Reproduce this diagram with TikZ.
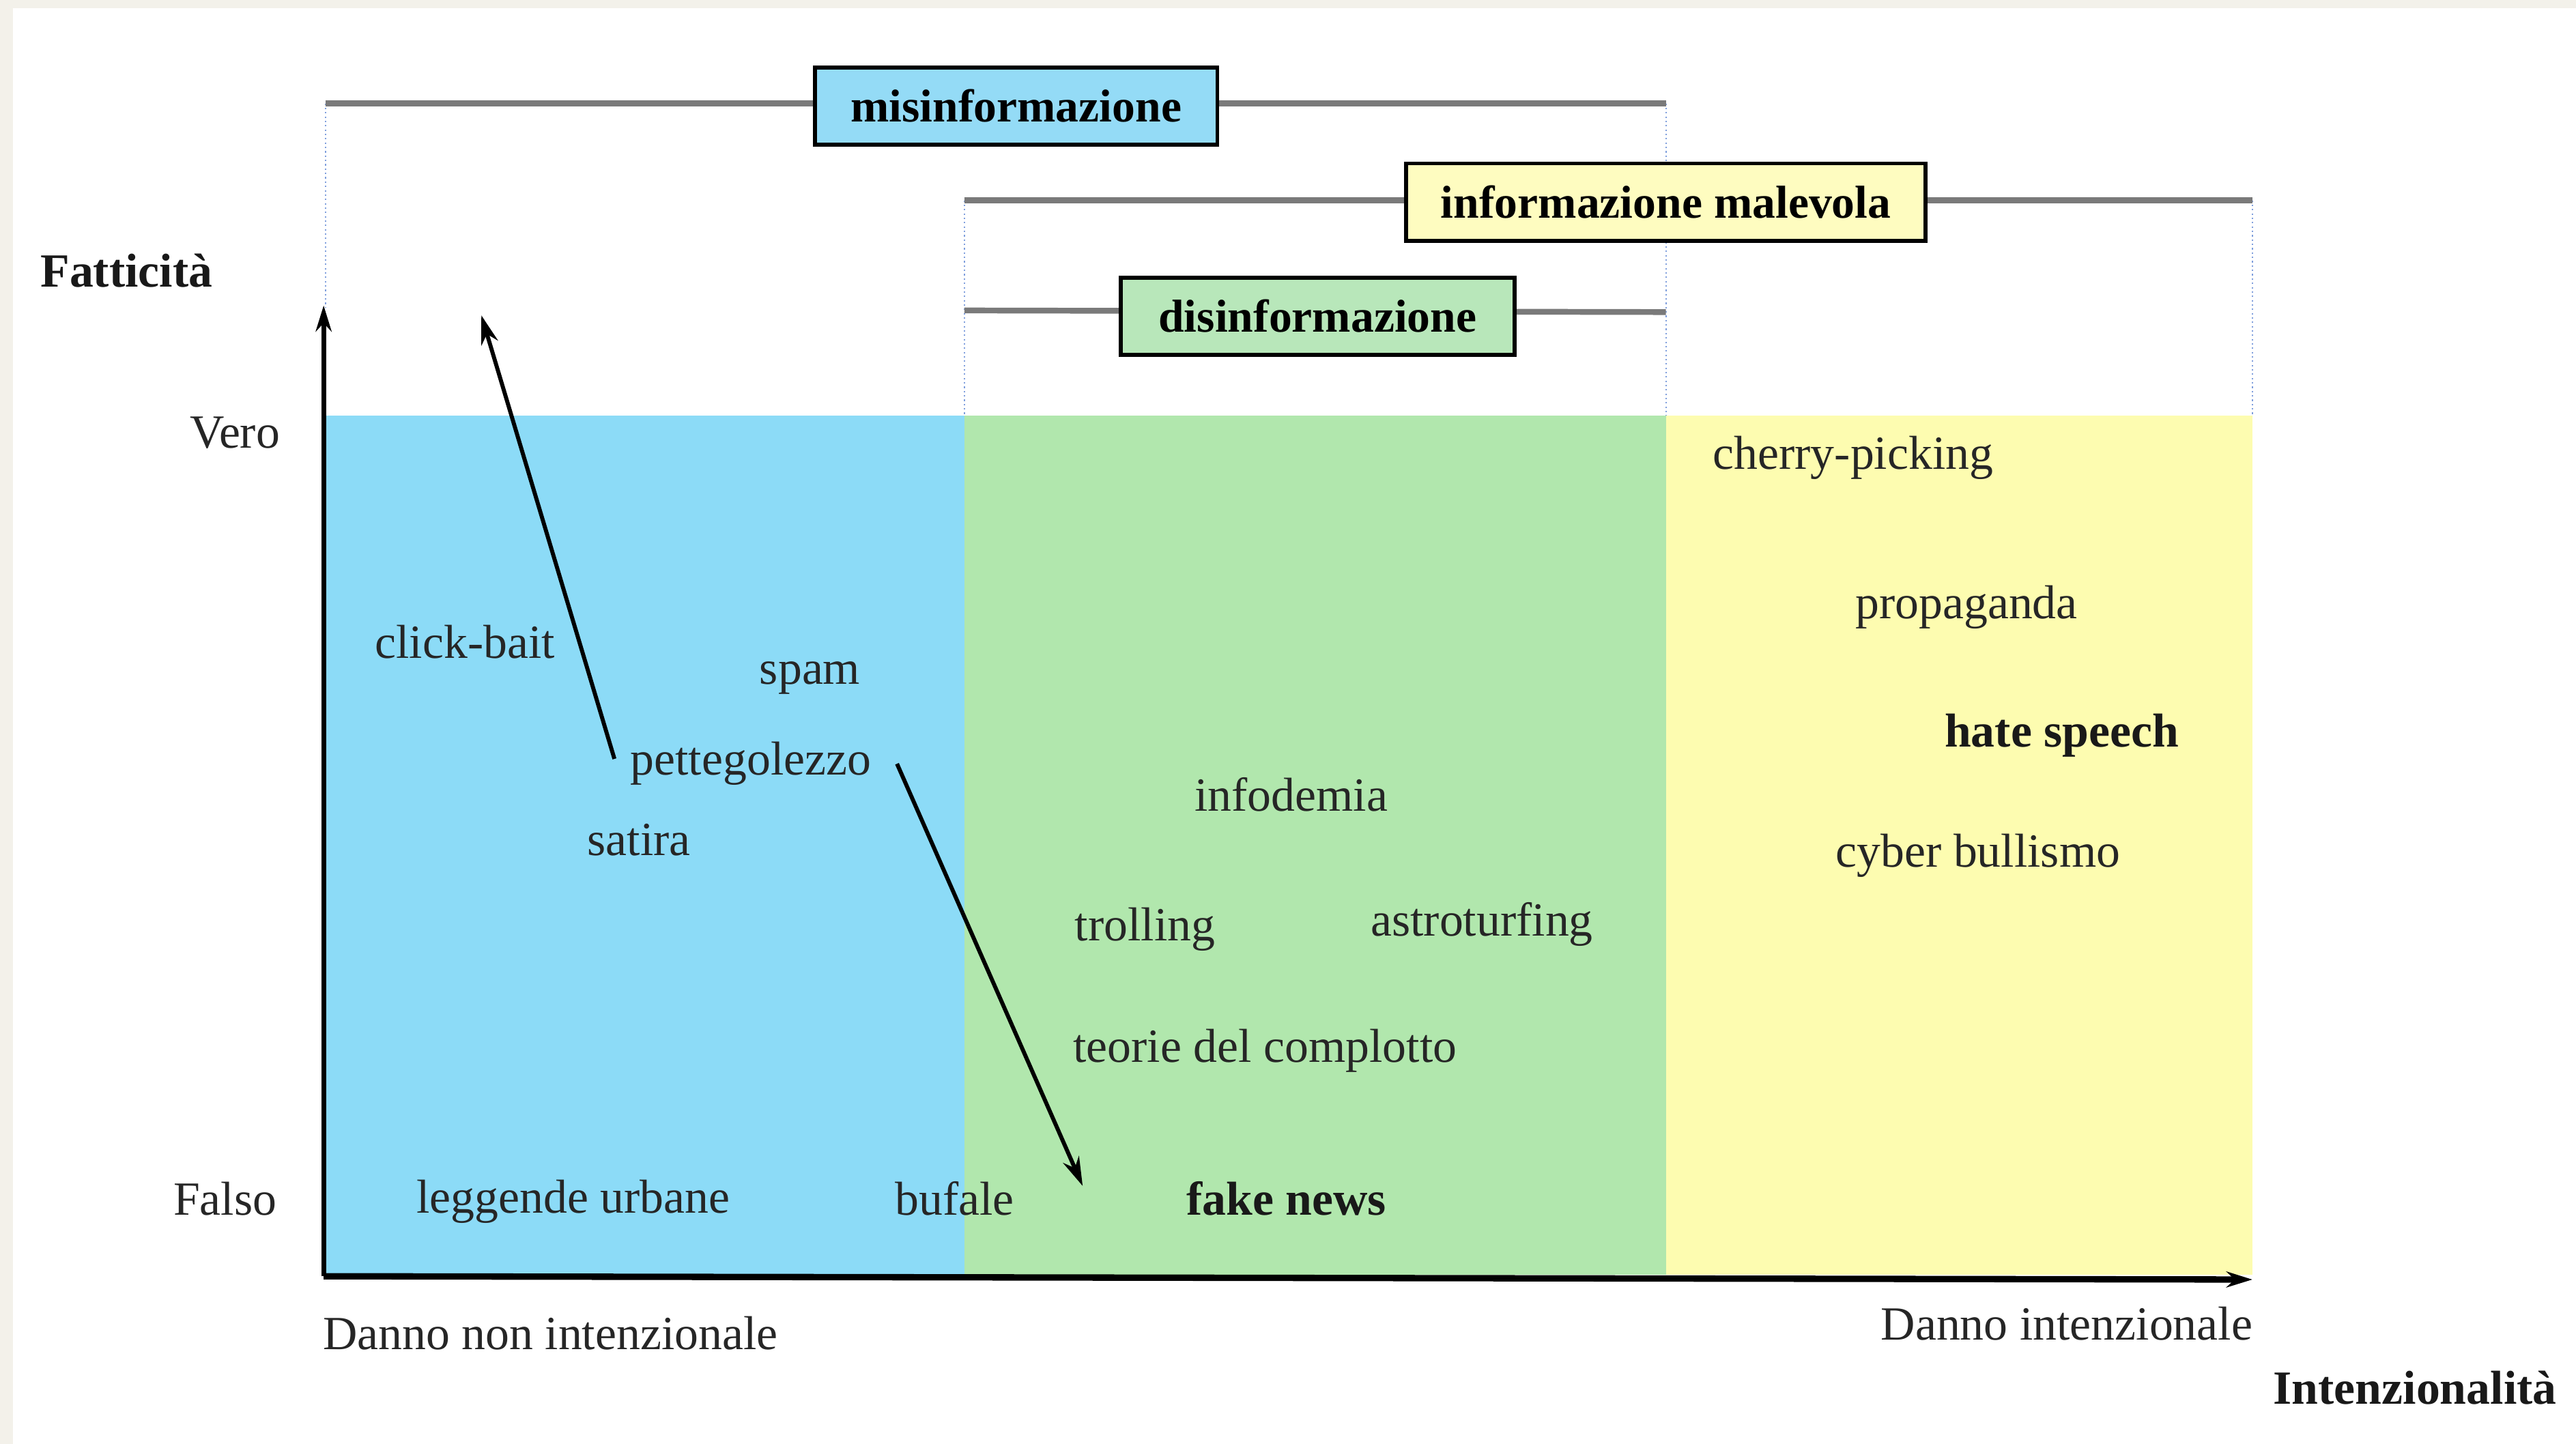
\documentclass[tikz,border=0pt]{standalone}
\usepackage{fontspec}
\setmainfont{Liberation Serif}
\usetikzlibrary{arrows.meta}
\definecolor{zbeige}{HTML}{F3F1EA}
\definecolor{zblue}{HTML}{8CDBF7}
\definecolor{zgreen}{HTML}{B1E7AD}
\definecolor{zyellow}{HTML}{FDFCB0}
\definecolor{bblue}{HTML}{94DBF6}
\definecolor{bgreen}{HTML}{B8E7BA}
\definecolor{byellow}{HTML}{FEFCC0}
\definecolor{zgray}{HTML}{7A7A7A}
\definecolor{zguide}{HTML}{7E9EDD}
\begin{document}
\begin{tikzpicture}[x=0.02cm,y=-0.02cm,
  lbl/.style={font=\fontsize{16.5}{19}\selectfont, inner sep=0pt, text=black!85,
    text height=11pt, text depth=0pt},
  blbl/.style={font=\fontsize{16.5}{19}\selectfont\bfseries, inner sep=0pt, text=black!90,
    text height=11pt, text depth=0pt},
  tagbox/.style={draw=black, line width=1.4pt, font=\fontsize{16}{19}\selectfont\bfseries,
    inner sep=0pt, minimum height=0.94cm, text height=11pt, text depth=0pt},
  bracket/.style={draw=zgray, line width=2pt},
  guide/.style={draw=zguide, line width=0.5pt, densely dotted},
  axisline/.style={draw=black, line width=1.6pt, -{Stealth[length=9pt,width=5.5pt]}},
  pointer/.style={draw=black, line width=1.4pt, -{Stealth[length=10pt,width=6pt]}}]
\useasboundingbox (0,0) rectangle (1568,879);
% page background
\fill[zbeige] (0,0) rectangle (1568,879);
\fill[white] (8,5) rectangle (1568,879);
% coloured regions
\fill[zblue] (197,253) rectangle (587,776);
\fill[zgreen] (587,253) rectangle (1014,776);
\fill[zyellow] (1014,253) rectangle (1371,776);
% coordinates
\coordinate (misL) at (198,63);
\coordinate (misR) at (1014,63);
\coordinate (malL) at (587,122);
\coordinate (malR) at (1371,122);
\coordinate (disL) at (587,189);
\coordinate (disR) at (1014,190);
\coordinate (gA) at (198,187);
\coordinate (gB) at (1014,253);
\coordinate (gC) at (587,253);
\coordinate (gD) at (1371,253);
\coordinate (O) at (197,777);
\coordinate (Ytop) at (197,186);
\coordinate (Xend) at (1371,779);
\coordinate (p1s) at (374,462);
\coordinate (p1e) at (293,192);
\coordinate (p2s) at (546,465);
\coordinate (p2e) at (659,722);
% guides
\draw[guide] (misL) -- (gA);
\draw[guide] (misR) -- (gB);
\draw[guide] (malL) -- (gC);
\draw[guide] (malR) -- (gD);
% brackets
\draw[bracket] (misL) -- (misR);
\draw[bracket] (malL) -- (malR);
\draw[bracket] (disL) -- (disR);
% boxes
\node[tagbox, fill=bblue, minimum width=4.9cm] (mis) at (618.5,64.5) {misinformazione};
\node[tagbox, fill=byellow, minimum width=6.32cm] (mal) at (1014,123) {informazione malevola};
\node[tagbox, fill=bgreen, minimum width=4.8cm] (dis) at (802,192.5) {disinformazione};
% axes
\draw[axisline] (O) -- (Ytop);
\draw[axisline, line width=2.2pt] (O) -- (Xend);
% pointers
\draw[pointer] (p1s) -- (p1e);
\draw[pointer] (p2s) -- (p2e);
% axis labels
\node[blbl] (fatt) at (77,165) {Fatticità};
\node[lbl] (vero) at (143,263) {Vero};
\node[lbl] (falso) at (137,730) {Falso};
\node[lbl] (dni) at (335,812) {Danno non intenzionale};
\node[lbl] (di) at (1258,806) {Danno intenzionale};
\node[blbl] (intz) at (1470,845) {Intenzionalità};
% blue region
\node[lbl] (click) at (283,391) {click-bait};
\node[lbl] (spam) at (493,407) {spam};
\node[lbl] (pett) at (457,462) {pettegolezzo};
\node[lbl] (sat) at (389,511) {satira};
\node[lbl] (legg) at (349,729) {leggende urbane};
\node[lbl] (buf) at (581,730) {bufale};
% green region
\node[lbl] (info) at (786,484) {infodemia};
\node[lbl] (troll) at (697,563) {trolling};
\node[lbl] (astro) at (902,560) {astroturfing};
\node[lbl] (teor) at (770,637) {teorie del complotto};
\node[blbl] (fake) at (783,730) {fake news};
% yellow region
\node[lbl] (cherry) at (1128,276) {cherry-picking};
\node[lbl] (prop) at (1197,367) {propaganda};
\node[blbl] (hate) at (1255,445) {hate speech};
\node[lbl] (cyber) at (1204,518) {cyber bullismo};
\end{tikzpicture}
\end{document}
